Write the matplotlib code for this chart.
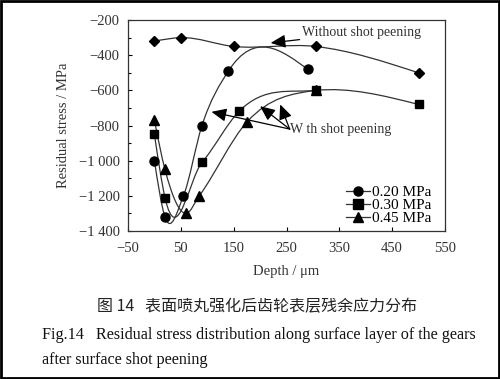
import numpy as np
import matplotlib
matplotlib.use("Agg")
import matplotlib.pyplot as plt
from matplotlib.path import Path
from matplotlib.patches import PathPatch, Rectangle
from matplotlib.ticker import MultipleLocator, FuncFormatter

plt.rcParams["font.family"] = ["Liberation Serif", "DejaVu Serif"]

# data
depth_unpeened = [0, 50, 150, 305, 500]
stress_unpeened = [-320, -300, -350, -350, -500]

depth_020 = [0, 20, 55, 90, 140, 290]
stress_020 = [-1000, -1320, -1200, -800, -490, -480]

depth_030 = [0, 20, 90, 160, 305, 500]
stress_030 = [-850, -1210, -1010, -720, -600, -680]

depth_045 = [0, 20, 60, 85, 175, 305]
stress_045 = [-770, -1050, -1300, -1200, -780, -600]

legend_labels = ["0.20 MPa", "0.30 MPa", "0.45 MPa"]
x_ticks = [-50, 50, 150, 250, 350, 450, 550]

GREY = "#333333"


def smooth_path(xs, ys):
    # piecewise cubic Hermite through the points (Bessel slopes), as Bezier segments
    x = np.asarray(xs, float)
    y = np.asarray(ys, float)
    h = np.diff(x)
    s = np.diff(y) / h
    m = np.empty_like(x)
    m[1:-1] = (h[1:] * s[:-1] + h[:-1] * s[1:]) / (h[:-1] + h[1:])
    m[0] = (3 * s[0] - m[1]) / 2
    m[-1] = (3 * s[-1] - m[-2]) / 2
    verts = [(x[0], y[0])]
    codes = [Path.MOVETO]
    for i in range(len(x) - 1):
        d = h[i] / 3
        verts += [(x[i] + d, y[i] + m[i] * d),
                  (x[i + 1] - d, y[i + 1] - m[i + 1] * d),
                  (x[i + 1], y[i + 1])]
        codes += [Path.CURVE4] * 3
    return Path(verts, codes)


fig = plt.figure(figsize=(5.0, 3.79), dpi=100)
ax = fig.add_axes([0.256, 0.3905, 0.634, 0.5565])

series = [
    (depth_unpeened, stress_unpeened, "D", 5.5),
    (depth_020, stress_020, "o", 6.5),
    (depth_030, stress_030, "s", 6),
    (depth_045, stress_045, "^", 6.5),
]
for xs, ys, mk, ms in series:
    ax.add_patch(PathPatch(smooth_path(xs, ys), fill=False, lw=0.9, color=GREY))
    ax.plot(xs, ys, ls="none", marker=mk, ms=ms, color="black", zorder=3)

# legend handles: line + marker
handles = []
for mk, lab in zip(["o", "s", "^"], legend_labels):
    h, = ax.plot([], [], ls="-", lw=0.9, color=GREY, marker=mk, ms=6.5,
                 mfc="black", mec="black", label=lab)
    handles.append(h)
ax.legend(handles=handles, loc="lower right", frameon=False, fontsize=11,
          handlelength=1.6, handletextpad=0.1, labelspacing=-0.05,
          bbox_to_anchor=(0.975, 0.0), borderaxespad=0)

arrow = dict(arrowstyle="-|>,head_length=0.9,head_width=0.4", color="black",
             lw=0.9, shrinkA=0, shrinkB=0)
ax.annotate("Without shot peening", xy=(220, -330), xytext=(280, -270),
            fontsize=10, color=GREY, va="center", ha="left", arrowprops=arrow)
for tip in [(108, -722), (200, -690), (238, -680)]:
    ax.annotate("", xy=tip, xytext=(256, -820), arrowprops=arrow)
ax.text(256, -820, "W th shot peening", fontsize=10, color=GREY,
        va="center", ha="left")

ax.set_xlim(-50, 550)
ax.set_ylim(-1400, -200)
ax.set_xticks(x_ticks)
ax.yaxis.set_major_locator(MultipleLocator(200))
ax.yaxis.set_minor_locator(MultipleLocator(100))


def fmt(v, pos):
    s = f"{abs(int(v)):,}".replace(",", " ")
    return ("\u2212" if v < 0 else "") + s


ax.xaxis.set_major_formatter(FuncFormatter(fmt))
ax.yaxis.set_major_formatter(FuncFormatter(fmt))
ax.tick_params(direction="in", labelsize=10.5, labelcolor=GREY, length=3,
               width=0.8)
ax.tick_params(axis="x", pad=8)
ax.tick_params(axis="y", pad=6)
ax.tick_params(which="minor", direction="in", length=2, width=0.8)
for s in ax.spines.values():
    s.set_linewidth(0.9)
    s.set_color(GREY)

ax.set_xlabel("Depth / \u03bcm", fontsize=10.5, color=GREY, labelpad=7)
ax.set_ylabel("Residual stress / MPa", fontsize=10.5, color=GREY, labelpad=6)

fig.text(0.514, 1 - 307 / 379, "图 14   表面喷丸强化后齿轮表层残余应力分布",
         family=["Noto Sans CJK SC", "DejaVu Sans"], fontsize=11.5,
         color="#222222", ha="center", va="center")
fig.text(42 / 500, 1 - 335 / 379,
         "Fig.14   Residual stress distribution along surface layer of the gears",
         fontsize=11.6, color="#111111", ha="left", va="center")
fig.text(42 / 500, 1 - 360 / 379, "after surface shot peening",
         fontsize=11.6, color="#111111", ha="left", va="center")

fig.patches.append(Rectangle((0.002, 0.003), 0.995, 0.994,
                             transform=fig.transFigure, fill=False,
                             lw=2, ec="black"))

fig.savefig("out.png", dpi=100)
